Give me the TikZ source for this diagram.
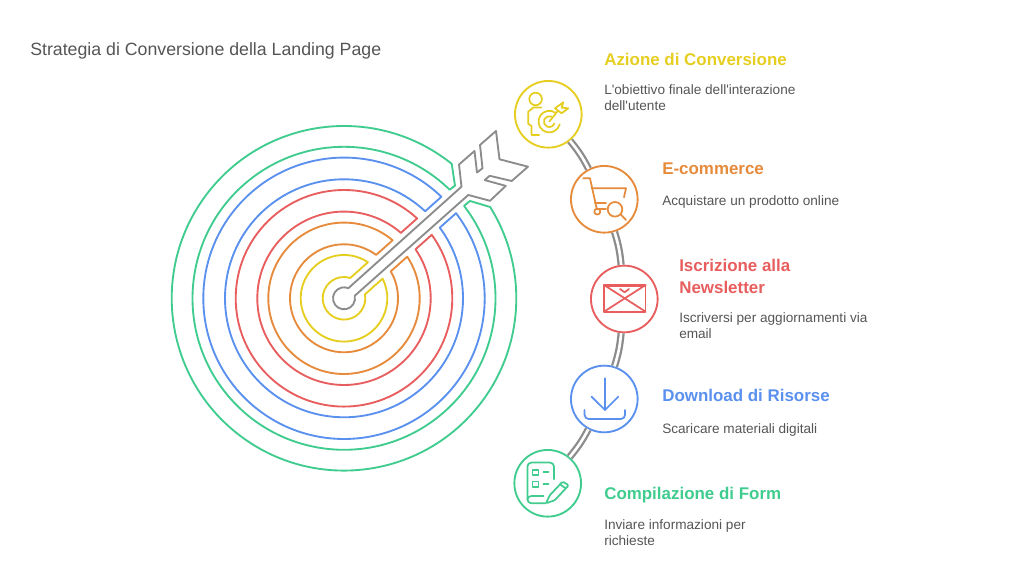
\documentclass[tikz,border=0pt]{standalone}
\usepackage{fontspec}
\setmainfont{Liberation Sans}
\usepackage{xcolor}
\definecolor{cyellow}{HTML}{E6CE20}
\definecolor{corange}{HTML}{E68A3C}
\definecolor{cred}{HTML}{E85D5D}
\definecolor{cblue}{HTML}{5A90EE}
\definecolor{cgreen}{HTML}{40CC8E}
\definecolor{cgrey}{HTML}{8C8C8C}
\definecolor{ctext}{HTML}{555555}
\begin{document}
\begin{tikzpicture}[x=0.75pt,y=0.75pt,line join=round]
        \tikzstyle{ring}=[line width=1.4pt]
        \tikzstyle{icon}=[line width=1.3pt,line cap=round]
        \tikzstyle{step node}=[circle,draw,fill=white,line width=1.4pt,minimum size=50pt,inner sep=0]
        \tikzstyle{link}=[draw=cgrey,line width=1.7pt,double=white,double distance=2pt]
        \tikzstyle{head text}=[anchor=base west,inner sep=0,align=left,font=\fontsize{12.7}{16.5}\selectfont\bfseries]
        \tikzstyle{body text}=[anchor=base west,inner sep=0,align=left,text=ctext,font=\fontsize{10.2}{12.2}\selectfont]

        \useasboundingbox (0,0) rectangle (1024,570);
        \node(title)[anchor=base west,inner sep=0,text=ctext,font=\fontsize{13.3}{15}\selectfont] at (30,514) {Strategia di Conversione della Landing Page};

        % target rings
        \begin{scope}[shift={(344,271.7)}]
            \foreach \ri/\ro/\col in {21.3/43.3/cyellow,54/75.7/corange,86.7/108.3/cred,119/140.7/cblue}{
                \pgfmathsetmacro\ao{asin(11/\ro)}
                \pgfmathsetmacro\ai{asin(11/\ri)}
                \draw[ring,draw=\col] (41.7+\ao:\ro) arc[start angle=41.7+\ao,end angle=401.7-\ao,radius=\ro]
                    -- (401.7-\ai:\ri) arc[start angle=401.7-\ai,end angle=41.7+\ai,radius=\ri] -- cycle;
            }
            \draw[ring,draw=cgreen] (51.3:172.3) arc[start angle=51.3,end angle=392,radius=172.3]
                -- (126,97.3) -- (397.6:151.5) arc[start angle=397.6,end angle=45.8,radius=151.5]
                -- (111,112.6) -- cycle;
        \end{scope}

        % arrow
        \draw[ring,draw=cgrey] (348.35,281.8) -- (461.5,383.3) -- (459,405.5) -- (474.5,419) -- (477,397.5)
            -- (482.5,401.7) -- (480,425) -- (496,439) -- (499.5,410.7) -- (528,403.3) -- (511.7,389)
            -- (489.7,394.2) -- (484.7,389.9) -- (505.8,384.1) -- (490,369.2) -- (468.3,375) -- (354.7,274.2)
            arc[start angle=13.3,end angle=-293.3,radius=11] -- cycle;

        % steps
        \node(goal)[step node,draw=cyellow] at (548.3,455.7) {};
        \node(shop)[step node,draw=corange] at (604.3,370.7) {};
        \node(mail)[step node,draw=cred] at (624.3,271) {};
        \node(load)[step node,draw=cblue] at (604.3,171) {};
        \node(form)[step node,draw=cgreen] at (547.7,86.7) {};
        \draw[link] (goal) to[bend left=6] (shop);
        \draw[link] (shop) to[bend left=6] (mail);
        \draw[link] (mail) to[bend left=6] (load);
        \draw[link] (load) to[bend left=6] (form);

        % icons
        \begin{scope}[shift={(goal.center)},icon,draw=cyellow]
            \draw (-12.7,15.3) circle[radius=6.3];
            \draw (-7,6.7) -- (-15,6.7) -- (-20,2.7) -- (-20,-9.7) -- (-16.7,-11.7) -- (-16.7,-20.7) -- (-9,-20.7);
            \draw (1,-7.3) ++(55:10.8) arc[start angle=55,end angle=345,radius=10.8];
            \draw (1,-7.3) ++(65:5.5) arc[start angle=65,end angle=340,radius=5.5];
            \draw (1,-7.3) -- (9,2.7);
            \draw (6.7,6) -- (15,12) -- (13.3,6.7) -- (20,6) -- (13.3,1) -- cycle;
        \end{scope}
        \begin{scope}[shift={(shop.center)},icon,draw=corange]
            \draw (-21,21) -- (-14.3,21) -- (-7.7,-9);
            \draw (-12.7,11) -- (21.7,11) -- (19.7,2);
            \draw (-9.3,-4) -- (1.7,-4);
            \draw (-7.7,-10) -- (1.7,-10);
            \draw (-7,-12.3) circle[radius=3];
            \draw (10.7,-10) circle[radius=7.3];
            \draw (16.3,-15) -- (21.7,-20.7);
        \end{scope}
        \begin{scope}[shift={(mail.center)},icon,draw=cred]
            \draw (-20.3,-12.7) rectangle (21.3,14);
            \draw (-20.3,13.2) -- (21.3,13.2);
            \draw (-20.3,14) -- (21.3,-12.7);
            \draw (-20.3,-12.7) -- (21.3,14);
            \draw (-4.3,10) -- (0.3,6.7) -- (4.7,10);
        \end{scope}
        \begin{scope}[shift={(load.center)},icon,draw=cblue]
            \draw (0.7,20.7) -- (0.7,-11);
            \draw (-12.7,2.3) -- (0.7,-11) -- (14,2.3);
            \draw[rounded corners=3pt] (-19.7,-11) -- (-19.7,-20) -- (20.7,-20) -- (20.7,-11);
        \end{scope}
        \begin{scope}[shift={(form.center)},icon,draw=cgreen]
            \draw[rounded corners=3pt] (-2,-20) -- (-20.3,-20) -- (-20.3,20.7) -- (6.3,20.7) -- (6.3,4);
            \draw (-20.3,-16) to[out=90,in=180] (-16,-12.7) -- (-4.3,-12.7);
            \draw (-15.3,8.3) rectangle (-9.3,13.3);
            \draw (-15.3,-4) rectangle (-9.3,1.7);
            \draw (-4.3,11) -- (0.7,11);
            \draw (-4.3,-1) -- (0.7,-1);
            \draw[rounded corners=1pt] (-1.7,-20) -- (2,-12) -- (15,1.7) -- (21,-2) -- (7,-17) -- cycle;
            \draw (12,-1) -- (18,-5);
        \end{scope}

        % labels
        \node(goal head)[head text,text=cyellow] at (604,504) {Azione di Conversione};
        \node(goal body)[body text] at (604,459.3) {L\textquotesingle obiettivo finale dell\textquotesingle interazione\\dell\textquotesingle utente};
        \node(shop head)[head text,text=corange] at (662,395.7) {E-commerce};
        \node(shop body)[body text] at (662,364.3) {Acquistare un prodotto online};
        \node(mail head)[head text,text=cred] at (679,276) {Iscrizione alla\\Newsletter};
        \node(mail body)[body text] at (679,231) {Iscriversi per aggiornamenti via\\email};
        \node(load head)[head text,text=cblue] at (662,168) {Download di Risorse};
        \node(load body)[body text] at (662,136) {Scaricare materiali digitali};
        \node(form head)[head text,text=cgreen] at (604,70) {Compilazione di Form};
        \node(form body)[body text] at (604,24.5) {Inviare informazioni per\\richieste};
    \end{tikzpicture}
\end{document}
